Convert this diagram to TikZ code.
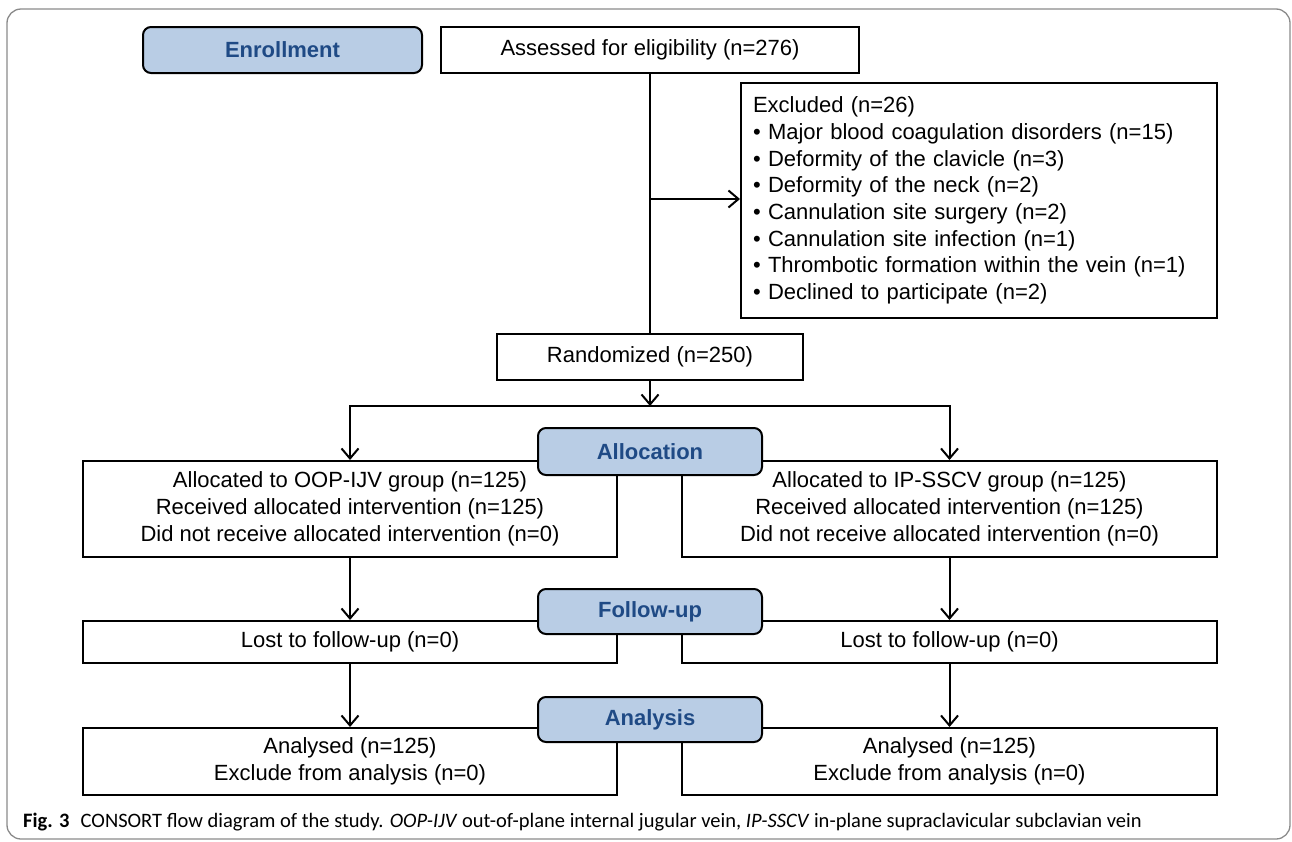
\documentclass[tikz,border=0pt]{standalone}
\usepackage{fontspec}
\setmainfont{Liberation Sans}
\newfontfamily\capfont{Carlito}
\usetikzlibrary{arrows.meta}
\definecolor{lblfill}{HTML}{B9CDE5}
\definecolor{lbltext}{HTML}{1F4A85}
\definecolor{framegray}{HTML}{8A8A8A}
\tikzset{
  box/.style={draw, line width=2pt, fill=white, align=center, inner sep=0pt,
    font=\fontsize{22}{27}\selectfont},
  lbl/.style={draw, line width=2pt, fill=lblfill, rounded corners=8pt, text=lbltext,
    font=\fontsize{22}{27}\selectfont\bfseries, inner sep=0pt},
  arr/.style={draw, line width=2pt, -{Straight Barb[length=10pt,width=17pt]}},
  ln/.style={draw, line width=2pt}
}
\begin{document}
\begin{tikzpicture}[x=1pt,y=-1pt]
\useasboundingbox (0,0) rectangle (1292,841);
\draw[framegray, line width=1.3pt, rounded corners=14pt] (7,9) rectangle (1290,839);

% top row
\node[lbl, minimum width=279pt, minimum height=46pt] (enroll) at (282.5,50) {Enrollment};
\node[box, minimum width=418pt, minimum height=46pt] (assess) at (650,50) {Assessed for eligibility (n=276)};

\node[box, minimum width=476pt, minimum height=235pt, text width=452pt, align=left,
  font=\fontsize{22}{26.7}\selectfont] (excl) at (979,200.5) {Excluded (n=26)\\
• Major blood coagulation disorders (n=15)\\
• Deformity of the clavicle (n=3)\\
• Deformity of the neck (n=2)\\
• Cannulation site surgery (n=2)\\
• Cannulation site infection (n=1)\\
• Thrombotic formation within the vein (n=1)\\
• Declined to participate (n=2)};

\node[box, minimum width=306pt, minimum height=46pt] (rand) at (650,357) {Randomized (n=250)};

% allocation
\node[box, minimum width=534pt, minimum height=96pt] (a1) at (350,509) {Allocated to OOP-IJV group (n=125)\\Received allocated intervention (n=125)\\Did not receive allocated intervention (n=0)};
\node[box, minimum width=535pt, minimum height=96pt] (a2) at (949.5,509) {Allocated to IP-SSCV group (n=125)\\Received allocated intervention (n=125)\\Did not receive allocated intervention (n=0)};

% follow-up
\node[box, minimum width=534pt, minimum height=42pt] (f1) at (350,642) {Lost to follow-up (n=0)};
\node[box, minimum width=535pt, minimum height=42pt] (f2) at (949.5,642) {Lost to follow-up (n=0)};

% analysis
\node[box, minimum width=534pt, minimum height=67pt] (n1) at (350,761.5) {Analysed (n=125)\\Exclude from analysis (n=0)};
\node[box, minimum width=535pt, minimum height=67pt] (n2) at (949.5,761.5) {Analysed (n=125)\\Exclude from analysis (n=0)};

% stage labels
\node[lbl, minimum width=224pt, minimum height=47pt] (lalloc) at (650,451.5) {Allocation};
\node[lbl, minimum width=224pt, minimum height=45pt] (lfollow) at (650,611.5) {Follow-up};
\node[lbl, minimum width=224pt, minimum height=45pt] (lanal) at (650,719.5) {Analysis};

% connectors
\coordinate (bj) at (650,199);
\coordinate (sp) at (650,406);
\draw[ln] (assess.south) -- (rand.north);
\draw[arr] (bj) -- (bj -| excl.west);
\draw[arr] (rand.south) -- (sp);
\draw[arr] (sp) -| (a1.north);
\draw[arr] (sp) -| (a2.north);
\draw[arr] (a1.south) -- (f1.north);
\draw[arr] (a2.south) -- (f2.north);
\draw[arr] (f1.south) -- (n1.north);
\draw[arr] (f2.south) -- (n2.north);

% caption
\node[anchor=west, inner sep=0pt, font=\capfont\fontsize{20.5}{24}\selectfont] (cap) at (23,822)
  {\textbf{Fig. 3}\hspace{0.55em}CONSORT flow diagram of the study. \textit{OOP-IJV} out-of-plane internal jugular vein, \textit{IP-SSCV} in-plane supraclavicular subclavian vein};
\end{tikzpicture}
\end{document}
